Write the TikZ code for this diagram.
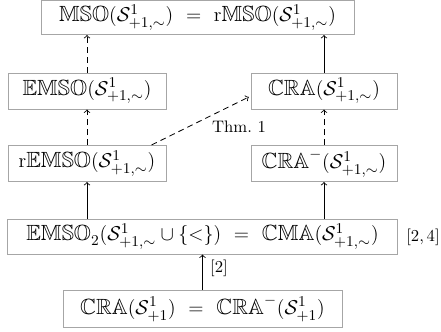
\documentclass[tikz,border=0pt]{standalone}
\usepackage{amssymb}
\usetikzlibrary{calc}
\tikzset{
  box/.style={draw=black!35, line width=0.6pt, inner sep=0pt, minimum height=21.6pt, font=\fontsize{13.2}{15}\selectfont},
  dasharrow/.style={->, dashed, dash pattern=on 3.5pt off 2.5pt, line width=0.5pt},
  solidarrow/.style={->, line width=0.5pt},
  lbl/.style={font=\fontsize{10}{12}\selectfont, inner sep=0pt}
}
\newcommand{\Sg}{\mathcal{S}^1_{+1,\sim}}
\newcommand{\Sp}{\mathcal{S}^1_{+1}}
\begin{document}
\begin{tikzpicture}[x=0.6pt,y=-0.6pt]
\useasboundingbox (0,0) rectangle (441,331);
\node[box, minimum width=187.8pt, minimum height=20.4pt] (top) at (197.5,17.5) {$\mathbb{MSO}(\Sg)\ =\ \mathrm{r}\mathbb{MSO}(\Sg)$};
\node[box, minimum width=94.8pt] (emso) at (87,91) {$\mathbb{EMSO}(\Sg)$};
\node[box, minimum width=87.6pt] (cra) at (324,91) {$\mathbb{CRA}(\Sg)$};
\node[box, minimum width=94.8pt] (remso) at (87,163.5) {$\mathrm{r}\mathbb{EMSO}(\Sg)$};
\node[box, minimum width=87.6pt] (cram) at (324,163.5) {$\mathbb{CRA}^-(\Sg)$};
\node[box, minimum width=234pt, minimum height=21pt] (emso2) at (202.5,236.5) {$\mathbb{EMSO}_2(\Sg\cup\{<\})\ =\ \mathbb{CMA}(\Sg)$};
\node[box, minimum width=167.4pt, minimum height=22.2pt] (bot) at (202.5,308.5) {$\mathbb{CRA}(\Sp)\ =\ \mathbb{CRA}^-(\Sp)$};
\node[lbl] (l24) at (423,237) {$[2,4]$};
\node[lbl] (thm) at (239,127) {Thm.\ 1};
\node[lbl] (l2) at (219,268) {$[2]$};
\draw[dasharrow] (emso.north) -- (emso.north |- top.south);
\draw[solidarrow] (cra.north) -- (cra.north |- top.south);
\draw[dasharrow] (remso.north) -- (emso.south);
\draw[dasharrow] (cram.north) -- (cra.south);
\draw[solidarrow] (emso2.north -| remso.south) -- (remso.south);
\draw[solidarrow] (emso2.north -| cram.south) -- (cram.south);
\draw[solidarrow] (bot.north) -- (emso2.south);
\draw[dasharrow] ([xshift=-9pt]remso.north east) -- ([xshift=-1pt,yshift=-3.6pt]cra.west);
\end{tikzpicture}
\end{document}
